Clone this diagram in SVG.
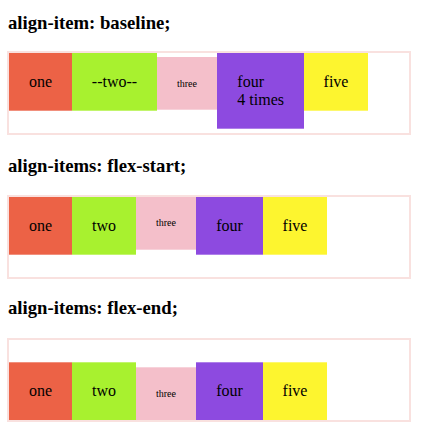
<svg xmlns="http://www.w3.org/2000/svg" width="429" height="428" viewBox="0 0 429 428">
<style>
text{font-family:"Liberation Serif","Times New Roman",serif;fill:#000}
.h{font-size:18.72px;font-weight:bold}
.t{font-size:16px;text-anchor:middle}
.s{font-size:10px;text-anchor:middle}
.box{fill:#fff;stroke:#f9e1df;stroke-width:2}
.c1{fill:#ec6246}
.c2{fill:#a8f12f}
.c3{fill:#f4bfca}
.c4{fill:#8d4ae0}
.c5{fill:#fdf52f}
</style>
<rect width="429" height="428" fill="#fff"/>
<g id="section-baseline">
<text class="h" x="8" y="29">align-item: baseline;</text>
<rect class="box" x="8" y="52" width="402" height="82"/>
<g id="b-one"><rect class="c1" x="9" y="53" width="63" height="57.7"/><text class="t" x="40.5" y="87">one</text></g>
<g id="b-two"><rect class="c2" x="72" y="53" width="85" height="57.7"/><text class="t" x="114.5" y="87">--two--</text></g>
<g id="b-three"><rect class="c3" x="157" y="57" width="60" height="52.7"/><text class="s" x="187" y="87">three</text></g>
<g id="b-four"><rect class="c4" x="217" y="53" width="87" height="75.7"/><text style="font-size:16px" x="237.3" y="87">four</text><text style="font-size:16px" x="237.3" y="105">4 times</text></g>
<g id="b-five"><rect class="c5" x="304" y="53" width="64" height="57.7"/><text class="t" x="336" y="87">five</text></g>
</g>
<g id="section-flex-start">
<text class="h" x="8" y="172">align-items: flex-start;</text>
<rect class="box" x="8" y="196" width="402" height="82"/>
<g id="s-one"><rect class="c1" x="9" y="197" width="63" height="57.7"/><text class="t" x="40.5" y="231">one</text></g>
<g id="s-two"><rect class="c2" x="72" y="197" width="64" height="57.7"/><text class="t" x="104" y="231">two</text></g>
<g id="s-three"><rect class="c3" x="136" y="197" width="60" height="52.7"/><text class="s" x="166" y="226">three</text></g>
<g id="s-four"><rect class="c4" x="196" y="197" width="67" height="57.7"/><text class="t" x="229.5" y="231">four</text></g>
<g id="s-five"><rect class="c5" x="263" y="197" width="64" height="57.7"/><text class="t" x="295" y="231">five</text></g>
</g>
<g id="section-flex-end">
<text class="h" x="8" y="314">align-items: flex-end;</text>
<rect class="box" x="8" y="339" width="402" height="82"/>
<g id="e-one"><rect class="c1" x="9" y="362.3" width="63" height="57.7"/><text class="t" x="40.5" y="396">one</text></g>
<g id="e-two"><rect class="c2" x="72" y="362.3" width="64" height="57.7"/><text class="t" x="104" y="396">two</text></g>
<g id="e-three"><rect class="c3" x="136" y="367.3" width="60" height="52.7"/><text class="s" x="166" y="396.5">three</text></g>
<g id="e-four"><rect class="c4" x="196" y="362.3" width="67" height="57.7"/><text class="t" x="229.5" y="396">four</text></g>
<g id="e-five"><rect class="c5" x="263" y="362.3" width="64" height="57.7"/><text class="t" x="295" y="396">five</text></g>
</g>
</svg>
